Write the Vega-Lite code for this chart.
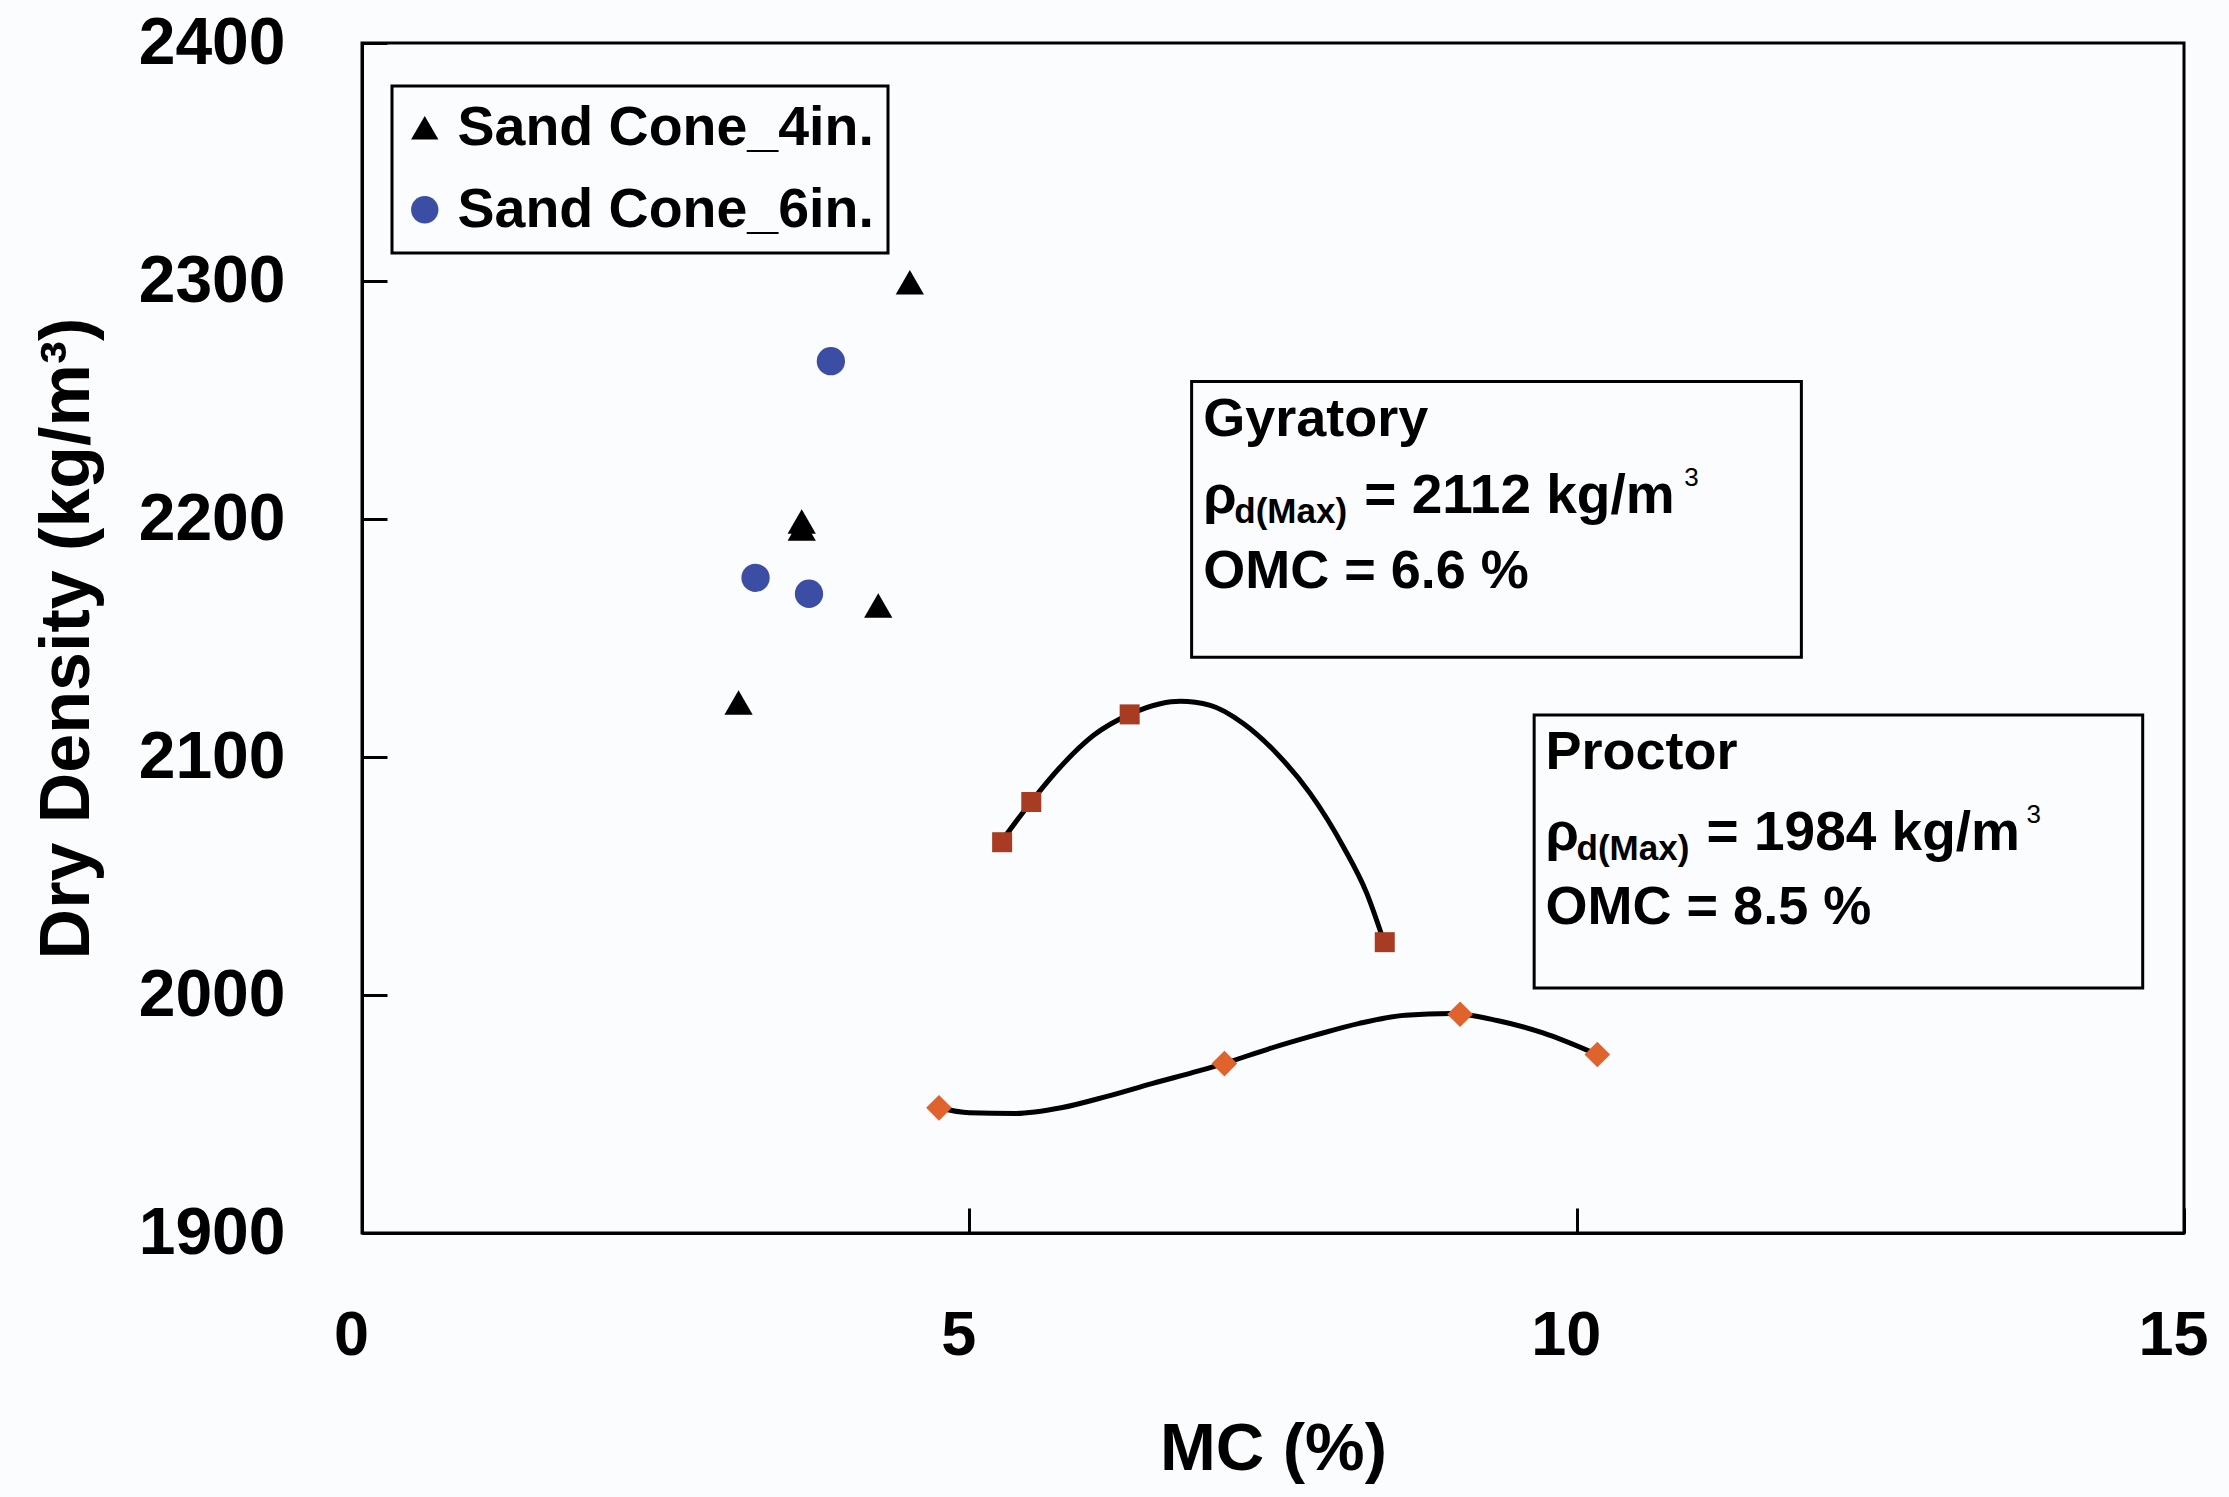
{
  "$schema": "https://vega.github.io/schema/vega-lite/v6.json",
  "width": 1822,
  "height": 1190,
  "autosize": {"type": "none"},
  "padding": {"left": 362, "top": 43, "right": 45, "bottom": 264},
  "background": "#fafcfe",
  "config": {
    "view": {"stroke": "black", "strokeWidth": 3},
    "font": "Liberation Sans",
    "legend": {
      "orient": "none",
      "legendX": 30,
      "legendY": 43,
      "strokeColor": "black",
      "strokeWidth": 3,
      "padding": 14,
      "labelFont": "Liberation Sans",
      "labelFontSize": 55.5,
      "labelFontWeight": "bold",
      "labelColor": "black",
      "labelLimit": 1000,
      "symbolSize": 750,
      "symbolStrokeWidth": 0,
      "symbolOffset": -9,
      "rowPadding": 25,
      "labelOffset": 5
    }
  },
  "datasets": {
    "points": [
      {"series": "Sand Cone_4in.", "mc": 4.51, "dd": 2299.5},
      {"series": "Sand Cone_4in.", "mc": 3.62, "dd": 2199},
      {"series": "Sand Cone_4in.", "mc": 3.62, "dd": 2196},
      {"series": "Sand Cone_4in.", "mc": 4.25, "dd": 2163.7},
      {"series": "Sand Cone_4in.", "mc": 3.10, "dd": 2122.9},
      {"series": "Sand Cone_6in.", "mc": 3.86, "dd": 2266.3},
      {"series": "Sand Cone_6in.", "mc": 3.24, "dd": 2175.3},
      {"series": "Sand Cone_6in.", "mc": 3.68, "dd": 2168.6}
    ],
    "tests": [
      {"test": "Gyratory", "mc": 5.27, "dd": 2064.2},
      {"test": "Gyratory", "mc": 5.51, "dd": 2081.1},
      {"test": "Gyratory", "mc": 6.32, "dd": 2117.9},
      {"test": "Gyratory", "mc": 8.42, "dd": 2022.2},
      {"test": "Proctor", "mc": 4.75, "dd": 1952.6},
      {"test": "Proctor", "mc": 7.10, "dd": 1971.2},
      {"test": "Proctor", "mc": 9.04, "dd": 1991.9},
      {"test": "Proctor", "mc": 10.17, "dd": 1975.0}
    ],
    "curves": [
      {"test": "Gyratory", "mc": 5.269, "dd": 2064.9},
      {"test": "Gyratory", "mc": 5.508, "dd": 2081.1},
      {"test": "Gyratory", "mc": 5.749, "dd": 2095.8},
      {"test": "Gyratory", "mc": 6.023, "dd": 2109.1},
      {"test": "Gyratory", "mc": 6.319, "dd": 2117.9},
      {"test": "Gyratory", "mc": 6.572, "dd": 2122.4},
      {"test": "Gyratory", "mc": 6.737, "dd": 2123.4},
      {"test": "Gyratory", "mc": 6.984, "dd": 2121.7},
      {"test": "Gyratory", "mc": 7.258, "dd": 2114.0},
      {"test": "Gyratory", "mc": 7.533, "dd": 2101.4},
      {"test": "Gyratory", "mc": 7.807, "dd": 2084.6},
      {"test": "Gyratory", "mc": 8.081, "dd": 2062.1},
      {"test": "Gyratory", "mc": 8.273, "dd": 2042.6},
      {"test": "Gyratory", "mc": 8.410, "dd": 2022.9},
      {"test": "Proctor", "mc": 4.746, "dd": 1952.6},
      {"test": "Proctor", "mc": 4.999, "dd": 1950.5},
      {"test": "Proctor", "mc": 5.377, "dd": 1950.2},
      {"test": "Proctor", "mc": 5.755, "dd": 1952.6},
      {"test": "Proctor", "mc": 6.133, "dd": 1957.4},
      {"test": "Proctor", "mc": 6.510, "dd": 1962.9},
      {"test": "Proctor", "mc": 6.888, "dd": 1968.1},
      {"test": "Proctor", "mc": 7.096, "dd": 1971.2},
      {"test": "Proctor", "mc": 7.455, "dd": 1977.2},
      {"test": "Proctor", "mc": 7.833, "dd": 1982.9},
      {"test": "Proctor", "mc": 8.211, "dd": 1988.1},
      {"test": "Proctor", "mc": 8.589, "dd": 1991.5},
      {"test": "Proctor", "mc": 8.967, "dd": 1992.2},
      {"test": "Proctor", "mc": 9.345, "dd": 1989.3},
      {"test": "Proctor", "mc": 9.723, "dd": 1984.1},
      {"test": "Proctor", "mc": 10.169, "dd": 1975.0}
    ],
    "boxes": [
      {"test": "Gyratory", "mc": 6.83, "mc2": 11.85, "dd": 2141.9, "dd2": 2257.8},
      {"test": "Proctor", "mc": 9.65, "mc2": 14.66, "dd": 2002.9, "dd2": 2117.6}
    ],
    "notes": [
      {"test": "Gyratory", "piece": "main", "mc": 6.926, "dd": 2235.0, "label": "Gyratory"},
      {"test": "Gyratory", "piece": "main", "mc": 6.926, "dd": 2202.5, "label": "ρ"},
      {"test": "Gyratory", "piece": "sub", "mc": 6.926, "dd": 2202.5, "label": "d(Max)"},
      {"test": "Gyratory", "piece": "eq", "mc": 6.926, "dd": 2202.5, "label": "= 2112 kg/m"},
      {"test": "Gyratory", "piece": "sup", "mc": 6.926, "dd": 2202.5, "label": "3"},
      {"test": "Gyratory", "piece": "main", "mc": 6.926, "dd": 2170.9, "label": "OMC = 6.6 %"},
      {"test": "Proctor", "piece": "main", "mc": 9.744, "dd": 2095.0, "label": "Proctor"},
      {"test": "Proctor", "piece": "main", "mc": 9.744, "dd": 2060.8, "label": "ρ"},
      {"test": "Proctor", "piece": "sub", "mc": 9.744, "dd": 2060.8, "label": "d(Max)"},
      {"test": "Proctor", "piece": "eq", "mc": 9.744, "dd": 2060.8, "label": "= 1984 kg/m"},
      {"test": "Proctor", "piece": "sup", "mc": 9.744, "dd": 2060.8, "label": "3"},
      {"test": "Proctor", "piece": "main", "mc": 9.744, "dd": 2029.7, "label": "OMC = 8.5 %"}
    ]
  },
  "layer": [
    {
      "data": {"name": "boxes"},
      "mark": {"type": "rect", "fill": null, "fillOpacity": 0, "stroke": "black", "strokeWidth": 3},
      "encoding": {
        "x": {
          "field": "mc", "type": "quantitative",
          "scale": {"domain": [0, 15], "nice": false, "zero": false},
          "axis": {
            "title": "MC (%)",
            "values": [0, 5, 10, 15],
            "format": "d",
            "grid": false,
            "tickSize": -25, "tickWidth": 3, "tickColor": "black",
            "domainColor": "black", "domainWidth": 3,
            "labelFont": "Liberation Sans", "labelFontSize": 63, "labelFontWeight": "bold", "labelColor": "black",
            "labelPadding": 96, "labelOffset": -11, "labelFlush": false, "labelOverlap": false, "labelBound": false,
            "titleFont": "Liberation Sans", "titleFontSize": 67, "titleFontWeight": "bold", "titleColor": "black",
            "titleX": 911, "titleY": 236, "titleAlign": "center", "titleBaseline": "alphabetic", "titleAnchor": null
          }
        },
        "x2": {"field": "mc2"},
        "y": {
          "field": "dd", "type": "quantitative",
          "scale": {"domain": [1900, 2400], "nice": false, "zero": false},
          "axis": {
            "title": "Dry Density (kg/m³)",
            "values": [1900, 2000, 2100, 2200, 2300, 2400],
            "format": "d",
            "grid": false,
            "tickSize": -25, "tickWidth": 3, "tickColor": "black",
            "domainColor": "black", "domainWidth": 3,
            "labelFont": "Liberation Sans", "labelFontSize": 66, "labelFontWeight": "bold", "labelColor": "black",
            "labelPadding": 102, "labelFlush": false, "labelOverlap": false, "labelBound": false,
            "titleFont": "Liberation Sans", "titleFontSize": 70, "titleFontWeight": "bold", "titleColor": "black",
            "titleAngle": -90, "titleX": -274, "titleY": 595, "titleAlign": "center", "titleBaseline": "alphabetic", "titleAnchor": null
          }
        },
        "y2": {"field": "dd2"}
      }
    },
    {
      "data": {"name": "curves"},
      "mark": {"type": "line", "color": "black", "strokeWidth": 5, "interpolate": "monotone"},
      "encoding": {
        "x": {"field": "mc", "type": "quantitative"},
        "y": {"field": "dd", "type": "quantitative"},
        "detail": {"field": "test"}
      }
    },
    {
      "data": {"name": "tests"},
      "transform": [{"filter": "datum.test === 'Gyratory'"}],
      "mark": {"type": "point", "shape": "square", "filled": true, "color": "#a83c22", "opacity": 1, "size": 400},
      "encoding": {
        "x": {"field": "mc", "type": "quantitative"},
        "y": {"field": "dd", "type": "quantitative"}
      }
    },
    {
      "data": {"name": "tests"},
      "transform": [{"filter": "datum.test === 'Proctor'"}],
      "mark": {"type": "point", "shape": "diamond", "filled": true, "color": "#e0622c", "opacity": 1, "size": 660},
      "encoding": {
        "x": {"field": "mc", "type": "quantitative"},
        "y": {"field": "dd", "type": "quantitative"}
      }
    },
    {
      "data": {"name": "points"},
      "mark": {"type": "point", "filled": true, "opacity": 1, "size": 800},
      "encoding": {
        "x": {"field": "mc", "type": "quantitative"},
        "y": {"field": "dd", "type": "quantitative"},
        "color": {
          "field": "series", "type": "nominal",
          "scale": {"domain": ["Sand Cone_4in.", "Sand Cone_6in."], "range": ["#000000", "#3b4ea3"]},
          "legend": {"title": null}
        },
        "shape": {
          "field": "series", "type": "nominal",
          "scale": {"domain": ["Sand Cone_4in.", "Sand Cone_6in."], "range": ["triangle-up", "circle"]},
          "legend": {"title": null}
        }
      }
    },
    {
      "data": {"name": "notes"},
      "transform": [{"filter": "datum.piece === 'main'"}],
      "mark": {"type": "text", "align": "left", "baseline": "alphabetic", "font": "Liberation Sans", "fontWeight": "bold", "fontSize": 54, "color": "black"},
      "encoding": {
        "x": {"field": "mc", "type": "quantitative"},
        "y": {"field": "dd", "type": "quantitative"},
        "text": {"field": "label"}
      }
    },
    {
      "data": {"name": "notes"},
      "transform": [{"filter": "datum.piece === 'sub'"}],
      "mark": {"type": "text", "align": "left", "baseline": "alphabetic", "font": "Liberation Sans", "fontWeight": "bold", "fontSize": 35, "color": "black", "dx": 31, "dy": 10},
      "encoding": {
        "x": {"field": "mc", "type": "quantitative"},
        "y": {"field": "dd", "type": "quantitative"},
        "text": {"field": "label"}
      }
    },
    {
      "data": {"name": "notes"},
      "transform": [{"filter": "datum.piece === 'eq'"}],
      "mark": {"type": "text", "align": "left", "baseline": "alphabetic", "font": "Liberation Sans", "fontWeight": "bold", "fontSize": 55, "color": "black", "dx": 161},
      "encoding": {
        "x": {"field": "mc", "type": "quantitative"},
        "y": {"field": "dd", "type": "quantitative"},
        "text": {"field": "label"}
      }
    },
    {
      "data": {"name": "notes"},
      "transform": [{"filter": "datum.piece === 'sup'"}],
      "mark": {"type": "text", "align": "left", "baseline": "alphabetic", "font": "Liberation Sans", "fontWeight": "normal", "fontSize": 26, "color": "black", "dx": 481, "dy": -27},
      "encoding": {
        "x": {"field": "mc", "type": "quantitative"},
        "y": {"field": "dd", "type": "quantitative"},
        "text": {"field": "label"}
      }
    }
  ]
}
